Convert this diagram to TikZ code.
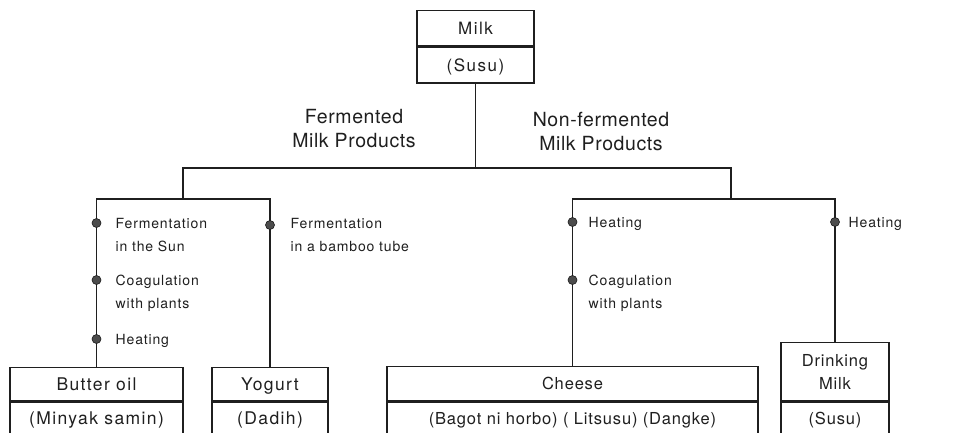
\documentclass[tikz,border=0pt]{standalone}
\usepackage{fontspec}
\setmainfont{TeX Gyre Heros}
\newfontfamily\annf[LetterSpace=6]{TeX Gyre Heros}
\newfontfamily\headf[LetterSpace=3]{TeX Gyre Heros}
\newfontfamily\boxf[LetterSpace=8]{TeX Gyre Heros}
\newfontfamily\boxg[LetterSpace=5]{TeX Gyre Heros}
\newfontfamily\topf[LetterSpace=9]{TeX Gyre Heros}
\begin{document}
\begin{tikzpicture}[x=1pt,y=-1pt,line width=1.4pt,
  ink/.style={draw=black!88},
  ann/.style={font=\annf\fontsize{14}{23}\selectfont,anchor=base west,align=left,inner sep=0pt,text=black!88},
  head/.style={font=\headf\fontsize{19.5}{23.5}\selectfont,anchor=base,align=center,inner sep=0pt,text=black!88},
  dotn/.style={circle,fill=black!70,draw=black!90,line width=0.6pt,minimum size=9pt,inner sep=0pt},
  topbox/.style={ink,rectangle,inner sep=0pt,anchor=north,text=black!88,font=\topf\fontsize{17}{23}\selectfont,text height=12.2pt,text depth=0pt},
  lbox/.style={ink,rectangle,inner sep=0pt,anchor=north,text=black!88,font=\boxf\fontsize{17.5}{23}\selectfont,text height=12.6pt,text depth=0pt},
  lboxlow/.style={lbox,text depth=8pt},
  rbox/.style={ink,rectangle,inner sep=0pt,anchor=north,text=black!88,font=\boxg\fontsize{16.5}{23}\selectfont,text height=11.85pt,text depth=0pt},
  rboxlow/.style={rbox,text depth=8pt},
  rboxtwo/.style={ink,rectangle,inner sep=0pt,anchor=north,text=black!88,font=\boxg\fontsize{16.5}{23}\selectfont,align=center}
]
\clip (0,0) rectangle (956,432);
\fill[white] (0,0) rectangle (956,432);

% top box
\node[topbox,minimum width=117pt,minimum height=35pt] (milk) at (475.5,10) {Milk};
\node[topbox,minimum width=117pt,minimum height=36pt] (milkS) at (milk.south) {(Susu)};

% product boxes
\node[lbox,minimum width=173pt,minimum height=33pt] (butter) at (96.5,367) {Butter oil};
\node[lboxlow,minimum width=173pt,minimum height=40pt] (butterS) at (butter.south) {(Minyak samin)};
\node[lbox,minimum width=116pt,minimum height=33pt] (yogurt) at (270,367) {Yogurt};
\node[lboxlow,minimum width=116pt,minimum height=40pt] (yogurtS) at (yogurt.south) {(Dadih)};
\node[rbox,minimum width=371pt,minimum height=34pt] (cheese) at (572.5,366) {Cheese};
\node[rboxlow,minimum width=371pt,minimum height=40pt] (cheeseS) at (cheese.south) {(Bagot ni horbo) ( Litsusu) (Dangke)};
\node[rboxtwo,minimum width=108pt,minimum height=58pt] (drink) at (835,342) {Drinking\\Milk};
\node[rboxlow,minimum width=108pt,minimum height=40pt] (drinkS) at (drink.south) {(Susu)};

% connectors
\coordinate (hL) at (183,168);
\coordinate (hR) at (731,168);
\coordinate (fL) at (183,199);
\coordinate (fR) at (731,199);
\draw[ink] (milkS.south) -- (milkS.south |- hL);
\draw[ink] (fL) -- (hL) -- (hR) -- (fR);
\draw[ink] (butter.north) -- (butter.north |- fL) -- (yogurt.north |- fL) -- (yogurt.north);
\draw[ink] (cheese.north) -- (cheese.north |- fR) -- (drink.north |- fR) -- (drink.north);

% headers (base anchor = last line)
\node[head] (hf) at (354,147) {Fermented\\Milk Products};
\node[head] (hn) at (601,150) {Non-fermented\\Milk Products};

% process dots
\node[dotn] (d1) at (96.5,223) {};
\node[dotn] (d2) at (96.5,280) {};
\node[dotn] (d3) at (96.5,339) {};
\node[dotn] (d4) at (270,225) {};
\node[dotn] (d5) at (572.5,222) {};
\node[dotn] (d6) at (572.5,280) {};
\node[dotn] (d7) at (835,222) {};

% process labels (base anchor = last line)
\node[ann] (t1) at (115,251) {Fermentation\\in the Sun};
\node[ann] (t2) at (115,308) {Coagulation\\with plants};
\node[ann] (t3) at (115,344) {Heating};
\node[ann] (t4) at (290,251) {Fermentation\\in a bamboo tube};
\node[ann] (t5) at (588,227) {Heating};
\node[ann] (t6) at (588,308) {Coagulation\\with plants};
\node[ann] (t7) at (848,227) {Heating};
\end{tikzpicture}
\end{document}
